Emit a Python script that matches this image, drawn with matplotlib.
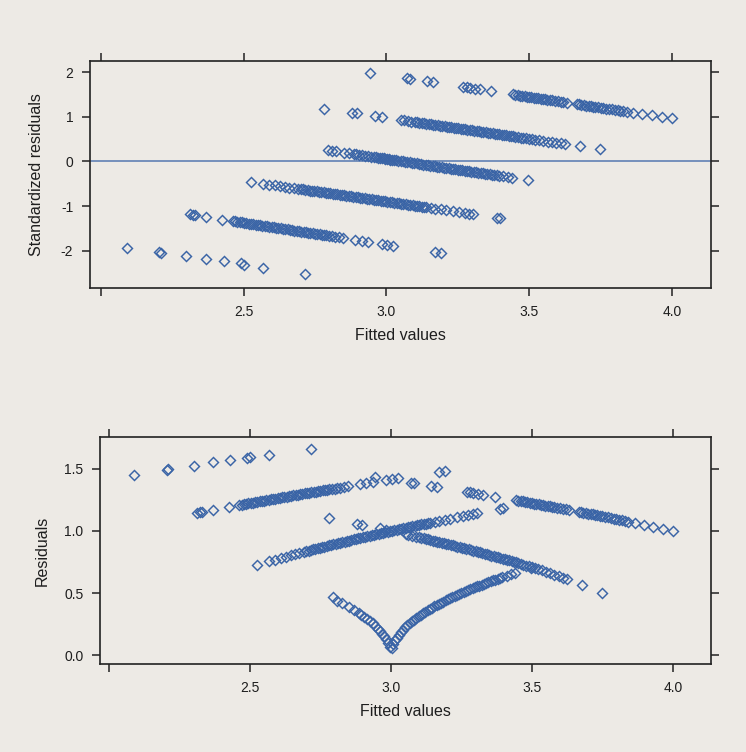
import numpy as np
import matplotlib.pyplot as plt

# fitted values, standardized residuals (top panel) and sqrt |residuals| (bottom panel),
# grouped by the band (observed level) the points sit on

fit_y5 = [2.942, 3.071, 3.082, 3.141, 3.164, 3.269, 3.281, 3.292, 3.31, 3.327, 3.368,
          3.444, 3.452, 3.46, 3.468, 3.476, 3.484, 3.492, 3.50, 3.508, 3.516, 3.524, 3.532,
          3.54, 3.548, 3.556, 3.564, 3.572, 3.58, 3.59, 3.60, 3.61, 3.62, 3.632,
          3.667, 3.675, 3.683, 3.691, 3.70, 3.708, 3.716, 3.724, 3.732, 3.74, 3.75, 3.76,
          3.77, 3.78, 3.79, 3.80, 3.81, 3.82, 3.83, 3.842, 3.864, 3.897, 3.929, 3.964, 4.001]
std_y5 = [1.980, 1.856, 1.845, 1.788, 1.766, 1.665, 1.654, 1.643, 1.626, 1.609, 1.570,
          1.497, 1.489, 1.481, 1.473, 1.466, 1.458, 1.450, 1.443, 1.435, 1.427, 1.420, 1.412,
          1.404, 1.396, 1.389, 1.381, 1.373, 1.366, 1.356, 1.346, 1.337, 1.327, 1.316,
          1.282, 1.274, 1.266, 1.259, 1.250, 1.242, 1.235, 1.227, 1.219, 1.212, 1.202, 1.192,
          1.183, 1.173, 1.163, 1.154, 1.144, 1.135, 1.125, 1.113, 1.092, 1.060, 1.030, 0.996, 0.960]
sq_y5 = [1.435, 1.389, 1.385, 1.363, 1.355, 1.316, 1.311, 1.307, 1.300, 1.293, 1.277,
         1.247, 1.244, 1.241, 1.238, 1.235, 1.231, 1.228, 1.225, 1.221, 1.218, 1.215, 1.212,
         1.208, 1.205, 1.202, 1.198, 1.195, 1.192, 1.187, 1.183, 1.179, 1.175, 1.170,
         1.155, 1.151, 1.148, 1.144, 1.140, 1.137, 1.133, 1.130, 1.126, 1.122, 1.118, 1.114,
         1.109, 1.105, 1.100, 1.095, 1.091, 1.086, 1.082, 1.076, 1.066, 1.050, 1.035, 1.018, 0.999]

fit_y4 = [2.781, 2.878, 2.896, 2.96, 2.983, 3.053, 3.062, 3.075, 3.088, 3.10, 3.108, 3.116,
          3.124, 3.132, 3.14, 3.148, 3.156, 3.164, 3.172, 3.18, 3.188, 3.196, 3.204, 3.212,
          3.22, 3.228, 3.236, 3.244, 3.252, 3.26, 3.268, 3.276, 3.284, 3.292, 3.30, 3.308,
          3.316, 3.324, 3.332, 3.34, 3.348, 3.356, 3.364, 3.372, 3.38, 3.388, 3.396, 3.404,
          3.412, 3.42, 3.428, 3.436, 3.444, 3.452, 3.46, 3.47, 3.48, 3.49, 3.50, 3.51, 3.52,
          3.535, 3.55, 3.565, 3.58, 3.595, 3.61, 3.625, 3.678, 3.748]
std_y4 = [1.180, 1.089, 1.072, 1.012, 0.990, 0.924, 0.916, 0.904, 0.891, 0.880, 0.873, 0.865,
          0.858, 0.850, 0.843, 0.835, 0.828, 0.820, 0.812, 0.805, 0.797, 0.790, 0.782, 0.775,
          0.767, 0.760, 0.752, 0.745, 0.737, 0.730, 0.722, 0.715, 0.707, 0.700, 0.692, 0.685,
          0.677, 0.670, 0.662, 0.655, 0.647, 0.640, 0.632, 0.624, 0.617, 0.609, 0.602, 0.594,
          0.587, 0.579, 0.572, 0.564, 0.557, 0.549, 0.542, 0.532, 0.523, 0.514, 0.504, 0.495, 0.485,
          0.471, 0.457, 0.443, 0.429, 0.415, 0.401, 0.387, 0.337, 0.271]
sq_y4 = [1.104, 1.059, 1.051, 1.020, 1.008, 0.973, 0.969, 0.962, 0.955, 0.949, 0.944, 0.940,
         0.936, 0.932, 0.927, 0.923, 0.919, 0.914, 0.910, 0.906, 0.901, 0.897, 0.892, 0.888,
         0.883, 0.879, 0.874, 0.869, 0.865, 0.860, 0.856, 0.851, 0.846, 0.841, 0.837, 0.832,
         0.827, 0.822, 0.817, 0.812, 0.807, 0.802, 0.797, 0.792, 0.787, 0.782, 0.777, 0.772,
         0.767, 0.762, 0.756, 0.751, 0.746, 0.740, 0.735, 0.728, 0.721, 0.714, 0.707, 0.700, 0.693,
         0.682, 0.671, 0.660, 0.648, 0.636, 0.624, 0.612, 0.567, 0.502]

fit_y3 = [2.796, 2.81, 2.825, 2.852, 2.87, 2.885, 2.895, 2.905, 2.915, 2.925, 2.935, 2.945,
          2.955, 2.962, 2.97, 2.977, 2.984, 2.99, 2.996, 3.003, 3.008, 3.014, 3.02, 3.027,
          3.034, 3.042, 3.05, 3.058, 3.066, 3.074, 3.082, 3.09, 3.098, 3.106, 3.114, 3.122,
          3.13, 3.138, 3.146, 3.154, 3.162, 3.17, 3.178, 3.186, 3.194, 3.202, 3.21, 3.218,
          3.226, 3.234, 3.242, 3.25, 3.258, 3.266, 3.274, 3.282, 3.29, 3.298, 3.306, 3.314,
          3.322, 3.33, 3.338, 3.346, 3.354, 3.362, 3.37, 3.378, 3.386, 3.394, 3.41, 3.425,
          3.44, 3.496]
std_y3 = [0.250, 0.237, 0.222, 0.196, 0.179, 0.165, 0.155, 0.145, 0.136, 0.126, 0.117, 0.107,
          0.097, 0.091, 0.083, 0.076, 0.070, 0.064, 0.058, 0.051, 0.046, 0.041, 0.035, 0.028,
          0.022, 0.014, 0.006, -0.002, -0.009, -0.017, -0.025, -0.032, -0.040, -0.048, -0.055, -0.063,
          -0.071, -0.078, -0.086, -0.094, -0.101, -0.109, -0.117, -0.124, -0.132, -0.140, -0.147, -0.155,
          -0.163, -0.170, -0.178, -0.186, -0.194, -0.201, -0.209, -0.217, -0.224, -0.232, -0.240, -0.247,
          -0.255, -0.263, -0.270, -0.278, -0.286, -0.293, -0.301, -0.309, -0.316, -0.324, -0.339, -0.354,
          -0.368, -0.422]
sq_y3 = [0.465, 0.436, 0.418, 0.385, 0.361, 0.339, 0.324, 0.308, 0.292, 0.274, 0.255, 0.235,
         0.212, 0.195, 0.173, 0.152, 0.126, 0.100, 0.063, 0.055, 0.089, 0.118, 0.141, 0.164,
         0.184, 0.205, 0.224, 0.241, 0.257, 0.272, 0.286, 0.300, 0.313, 0.326, 0.338, 0.349,
         0.361, 0.371, 0.382, 0.392, 0.402, 0.412, 0.422, 0.431, 0.440, 0.449, 0.458, 0.467,
         0.475, 0.484, 0.492, 0.500, 0.508, 0.516, 0.523, 0.531, 0.539, 0.546, 0.553, 0.560,
         0.567, 0.574, 0.581, 0.588, 0.595, 0.602, 0.608, 0.615, 0.621, 0.628, 0.640, 0.652,
         0.663, 0.704]

fit_y2 = [2.525, 2.568, 2.59, 2.61, 2.628, 2.645, 2.66, 2.675, 2.69, 2.70, 2.708, 2.716,
          2.724, 2.732, 2.74, 2.748, 2.756, 2.764, 2.772, 2.78, 2.788, 2.796, 2.804, 2.812,
          2.82, 2.828, 2.836, 2.844, 2.852, 2.86, 2.868, 2.876, 2.884, 2.892, 2.90, 2.908,
          2.916, 2.924, 2.932, 2.94, 2.948, 2.956, 2.964, 2.972, 2.98, 2.988, 2.996, 3.004,
          3.012, 3.02, 3.028, 3.036, 3.044, 3.052, 3.06, 3.068, 3.076, 3.084, 3.092, 3.10,
          3.108, 3.116, 3.124, 3.132, 3.14, 3.155, 3.17, 3.19, 3.21, 3.235, 3.255, 3.275,
          3.29, 3.305, 3.386, 3.398]
std_y2 = [-0.460, -0.500, -0.520, -0.539, -0.556, -0.572, -0.586, -0.600, -0.613, -0.623, -0.630, -0.638,
          -0.645, -0.653, -0.660, -0.667, -0.675, -0.682, -0.690, -0.697, -0.705, -0.712, -0.719, -0.727,
          -0.734, -0.742, -0.749, -0.757, -0.764, -0.772, -0.779, -0.786, -0.794, -0.801, -0.809, -0.816,
          -0.824, -0.831, -0.839, -0.846, -0.853, -0.861, -0.868, -0.876, -0.883, -0.891, -0.898, -0.905,
          -0.913, -0.920, -0.928, -0.935, -0.943, -0.950, -0.958, -0.965, -0.972, -0.980, -0.987, -0.995,
          -1.002, -1.010, -1.017, -1.025, -1.032, -1.046, -1.060, -1.078, -1.097, -1.120, -1.139, -1.158,
          -1.171, -1.185, -1.261, -1.272]
sq_y2 = [0.725, 0.754, 0.768, 0.781, 0.792, 0.803, 0.812, 0.822, 0.831, 0.837, 0.841, 0.846,
         0.851, 0.856, 0.860, 0.865, 0.869, 0.874, 0.879, 0.883, 0.888, 0.892, 0.897, 0.901,
         0.906, 0.910, 0.914, 0.919, 0.923, 0.927, 0.932, 0.936, 0.940, 0.944, 0.949, 0.953,
         0.957, 0.961, 0.965, 0.970, 0.974, 0.978, 0.982, 0.986, 0.990, 0.994, 0.998, 1.002,
         1.006, 1.010, 1.014, 1.018, 1.022, 1.026, 1.030, 1.033, 1.037, 1.041, 1.045, 1.049,
         1.053, 1.056, 1.060, 1.064, 1.068, 1.075, 1.082, 1.091, 1.100, 1.111, 1.120, 1.129,
         1.136, 1.142, 1.177, 1.182]

fit_y1 = [2.312, 2.322, 2.33, 2.37, 2.426, 2.462, 2.47, 2.478, 2.486, 2.494, 2.502, 2.51,
          2.518, 2.526, 2.534, 2.542, 2.55, 2.558, 2.566, 2.574, 2.582, 2.59, 2.598, 2.606,
          2.614, 2.622, 2.63, 2.638, 2.646, 2.654, 2.662, 2.67, 2.678, 2.686, 2.694, 2.702,
          2.71, 2.718, 2.726, 2.734, 2.742, 2.75, 2.758, 2.766, 2.774, 2.782, 2.79, 2.80,
          2.81, 2.82, 2.833, 2.849, 2.89, 2.913, 2.936, 2.983, 3.003, 3.024, 3.17, 3.193]
std_y1 = [-1.190, -1.200, -1.208, -1.247, -1.302, -1.337, -1.345, -1.353, -1.361, -1.368, -1.376, -1.384,
          -1.392, -1.400, -1.408, -1.415, -1.423, -1.431, -1.439, -1.447, -1.455, -1.462, -1.470, -1.478,
          -1.486, -1.494, -1.502, -1.509, -1.517, -1.525, -1.533, -1.541, -1.549, -1.557, -1.564, -1.572,
          -1.580, -1.588, -1.596, -1.604, -1.611, -1.619, -1.627, -1.635, -1.643, -1.651, -1.658, -1.668,
          -1.678, -1.688, -1.701, -1.716, -1.756, -1.779, -1.802, -1.848, -1.867, -1.888, -2.031, -2.053]
sq_y1 = [1.145, 1.150, 1.153, 1.170, 1.194, 1.209, 1.212, 1.216, 1.219, 1.222, 1.226, 1.229,
         1.232, 1.235, 1.239, 1.242, 1.245, 1.248, 1.251, 1.255, 1.258, 1.261, 1.264, 1.267,
         1.270, 1.274, 1.277, 1.280, 1.283, 1.286, 1.289, 1.292, 1.295, 1.298, 1.302, 1.305,
         1.308, 1.311, 1.314, 1.317, 1.320, 1.323, 1.326, 1.329, 1.332, 1.335, 1.338, 1.342,
         1.345, 1.349, 1.354, 1.360, 1.375, 1.383, 1.391, 1.408, 1.415, 1.423, 1.473, 1.481]

fit_y0 = [2.09, 2.205, 2.21, 2.30, 2.37, 2.43, 2.49, 2.50, 2.567, 2.715]
std_y0 = [-1.93, -2.04, -2.05, -2.12, -2.19, -2.24, -2.28, -2.33, -2.39, -2.53]
sq_y0 = [1.45, 1.495, 1.497, 1.525, 1.553, 1.573, 1.59, 1.594, 1.613, 1.66]

fitted = fit_y0 + fit_y1 + fit_y2 + fit_y3 + fit_y4 + fit_y5
std_resid = std_y0 + std_y1 + std_y2 + std_y3 + std_y4 + std_y5
sqrt_resid = sq_y0 + sq_y1 + sq_y2 + sq_y3 + sq_y4 + sq_y5

x_ticks = [2.0, 2.5, 3.0, 3.5, 4.0]
x_labels = ['', '2.5', '3.0', '3.5', '4.0']
top_yticks = [-2, -1, 0, 1, 2]
bot_yticks = [0.0, 0.5, 1.0, 1.5]

bg = '#EDEAE5'
pt_col = '#3A64A6'
txt = '#1E1E1E'

plt.rcParams['font.family'] = ['Liberation Sans', 'DejaVu Sans']

fig = plt.figure(figsize=(7.46, 7.52), dpi=100)
fig.patch.set_facecolor(bg)

def styleAxis(ax):
    ax.set_facecolor(bg)
    for sp in ax.spines.values():
        sp.set_color('#222222')
        sp.set_linewidth(1.2)
    ax.tick_params(direction='out', length=6, width=1.1, color='#222222',
                   top=True, right=True, labeltop=False, labelright=False,
                   labelsize=10, labelcolor=txt, pad=6)
    ax.set_xticks(x_ticks)
    ax.set_xticklabels(x_labels)
    ax.set_xlabel('Fitted values', fontsize=11.5, color=txt, labelpad=7)

# top panel: standardized residuals
ax1 = fig.add_axes([0.1206, 0.617, 0.8325, 0.3019])
styleAxis(ax1)
ax1.axhline(0, color='#5578B0', lw=1.1, zorder=1)
ax1.plot(fitted, std_resid, ls='none', marker='D', ms=5.6, mfc='none',
         mec=pt_col, mew=1.05, zorder=2)
ax1.set_xlim(1.962, 4.137)
ax1.set_ylim(-2.836, 2.247)
ax1.set_yticks(top_yticks)
ax1.set_yticklabels([str(v) for v in top_yticks])
ax1.set_ylabel('Standardized residuals', fontsize=11.5, color=txt, labelpad=12)

# bottom panel: sqrt of absolute residuals
ax2 = fig.add_axes([0.134, 0.117, 0.819, 0.3019])
styleAxis(ax2)
ax2.plot(fitted, sqrt_resid, ls='none', marker='D', ms=5.6, mfc='none',
         mec=pt_col, mew=1.05, zorder=2)
ax2.set_xlim(1.968, 4.135)
ax2.set_ylim(-0.072, 1.757)
ax2.set_yticks(bot_yticks)
ax2.set_yticklabels(['%.1f' % v for v in bot_yticks])
ax2.set_ylabel('Residuals', fontsize=11.5, color=txt, labelpad=10)

fig.savefig('out.png', dpi=100, facecolor=bg)
